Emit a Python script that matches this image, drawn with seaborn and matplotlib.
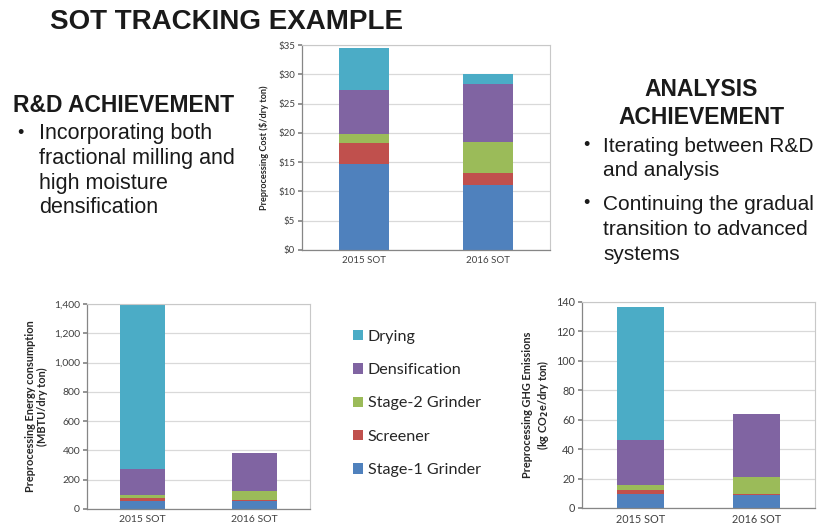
import matplotlib
matplotlib.use("Agg")
import matplotlib.pyplot as plt
from matplotlib.patches import Patch
import numpy as np
import seaborn as sns

# categories and stacked components (bottom to top)
years = ["2015 SOT", "2016 SOT"]
steps = ["Stage-1 Grinder", "Screener", "Stage-2 Grinder", "Densification", "Drying"]
step_colors = ["#4F81BD", "#C0504D", "#9BBB59", "#8064A2", "#4BACC6"]

# $/dry ton
cost_2015 = [14.7, 3.5, 1.6, 7.5, 7.2]
cost_2016 = [11.1, 2.0, 5.4, 9.8, 1.8]
# MBTU/dry ton
energy_2015 = [57, 21, 16, 180, 1116]
energy_2016 = [57, 7, 59, 259, 0]
# kg CO2e/dry ton
ghg_2015 = [9.3, 2.9, 3.4, 30.4, 90.6]
ghg_2016 = [8.6, 1.1, 11.5, 42.7, 0]

cost_ticks = [0, 5, 10, 15, 20, 25, 30, 35]
cost_ticklabels = ["$0", "$5", "$10", "$15", "$20", "$25", "$30", "$35"]
energy_ticks = [0, 200, 400, 600, 800, 1000, 1200, 1400]
energy_ticklabels = ["0", "200", "400", "600", "800", "1,000", "1,200", "1,400"]
ghg_ticks = [0, 20, 40, 60, 80, 100, 120, 140]

left_heading = "R&D ACHIEVEMENT"
left_lines = ["Incorporating both", "fractional milling and", "high moisture", "densification"]
right_heading = ["ANALYSIS", "ACHIEVEMENT"]
right_lines = ["Iterating between R&D", "and analysis", "Continuing the gradual",
               "transition to advanced", "systems"]

sns.set_theme(style="white")
plt.rcParams["font.family"] = ["Lato", "DejaVu Sans"]

fig = plt.figure(figsize=(8.19, 5.31), dpi=100)
fig.patch.set_facecolor("white")
W, H = 819, 531


def px_axes(l, t, r, b):
    return fig.add_axes([l / W, 1 - b / H, (r - l) / W, (b - t) / H])


def stacked(ax, v15, v16, ticks, ticklabels, ylabel, label_x, tick_fs, lab_fs):
    c15 = np.cumsum(v15)
    c16 = np.cumsum(v16)
    # draw tallest cumulative first so lower segments sit on top
    for i in range(len(steps) - 1, -1, -1):
        sns.barplot(x=years, y=[c15[i], c16[i]], color=step_colors[i],
                    width=0.4, linewidth=0, saturation=1, ax=ax)
    ax.set_ylim(ticks[0], ticks[-1])
    ax.set_xlim(-0.5, 1.5)
    ax.set_yticks(ticks)
    ax.set_yticklabels(ticklabels, fontsize=tick_fs, color="#404040")
    ax.set_xticks([0, 1])
    ax.set_xticklabels(years, fontsize=tick_fs, color="#404040")
    ax.set_xticks([-0.5, 0.5, 1.5], minor=True)
    ax.tick_params(axis="x", which="major", length=0, pad=4)
    ax.tick_params(axis="x", which="minor", length=3, color="#868686", direction="out")
    ax.tick_params(axis="y", length=3, color="#868686", direction="out", pad=2, left=True)
    ax.grid(axis="y", color="#D9D9D9", linewidth=0.9)
    ax.set_axisbelow(True)
    for s in ["top", "right"]:
        ax.spines[s].set_color("#C8C8C8")
        ax.spines[s].set_linewidth(0.8)
    for s in ["left", "bottom"]:
        ax.spines[s].set_color("#868686")
        ax.spines[s].set_linewidth(0.9)
    ax.set_xlabel("")
    ax.set_ylabel(ylabel, fontsize=lab_fs, fontweight="bold", color="#262626",
                  linespacing=1.15)
    ax.yaxis.set_label_coords(label_x, 0.5)


ax_cost = px_axes(302, 45, 550, 250)
stacked(ax_cost, cost_2015, cost_2016, cost_ticks, cost_ticklabels,
        "Preprocessing Cost ($/dry ton)", -0.135, 7, 6.6)

ax_energy = px_axes(87, 304, 310, 509)
stacked(ax_energy, energy_2015, energy_2016, energy_ticks, energy_ticklabels,
        "Preprocessing Energy consumption\n(MBTU/dry ton)", -0.175, 7.5, 7.9)

ax_ghg = px_axes(582, 302, 815, 508)
stacked(ax_ghg, ghg_2015, ghg_2016, ghg_ticks, [str(t) for t in ghg_ticks],
        "Preprocessing GHG Emissions\n(kg CO$_\\mathbf{2}$e/dry ton)", -0.135, 7.8, 7.9)

# legend
handles = [Patch(facecolor=step_colors[i], edgecolor="none") for i in range(len(steps) - 1, -1, -1)]
labels = steps[::-1]
fig.legend(handles, labels, loc="center left", bbox_to_anchor=(353 / W, 1 - 403.5 / H),
           frameon=False, fontsize=11.6, handlelength=0.6, handleheight=0.6,
           handletextpad=0.3, labelspacing=1.2, borderpad=0, borderaxespad=0,
           labelcolor="#262626")

# slide text
txt = dict(family=["Liberation Sans", "DejaVu Sans"], color="#1a1a1a")
fig.text(50 / W, 1 - 22 / H, "SOT TRACKING EXAMPLE", fontsize=20, fontweight="bold",
         va="center", ha="left", **txt)
fig.text(13 / W, 1 - 105 / H, left_heading, fontsize=16.5, fontweight="bold",
         va="center", ha="left", **txt)
fig.text(17 / W, 1 - 134 / H, "\u2022", fontsize=13, va="center", ha="left", **txt)
for i, line in enumerate(left_lines):
    fig.text(39 / W, 1 - (134 + 24.5 * i) / H, line, fontsize=15.5, va="center", ha="left", **txt)

for i, line in enumerate(right_heading):
    fig.text(701 / W, 1 - (90 + 27 * i) / H, line, fontsize=16.5, fontweight="bold",
             va="center", ha="center", **txt)
right_y = [146, 170, 204, 229, 254]
for y, line in zip(right_y, right_lines):
    fig.text(603 / W, 1 - y / H, line, fontsize=15, va="center", ha="left", **txt)
for y in [146, 204]:
    fig.text(583 / W, 1 - y / H, "\u2022", fontsize=13, va="center", ha="left", **txt)

fig.savefig("out.png", dpi=100, facecolor="white")
